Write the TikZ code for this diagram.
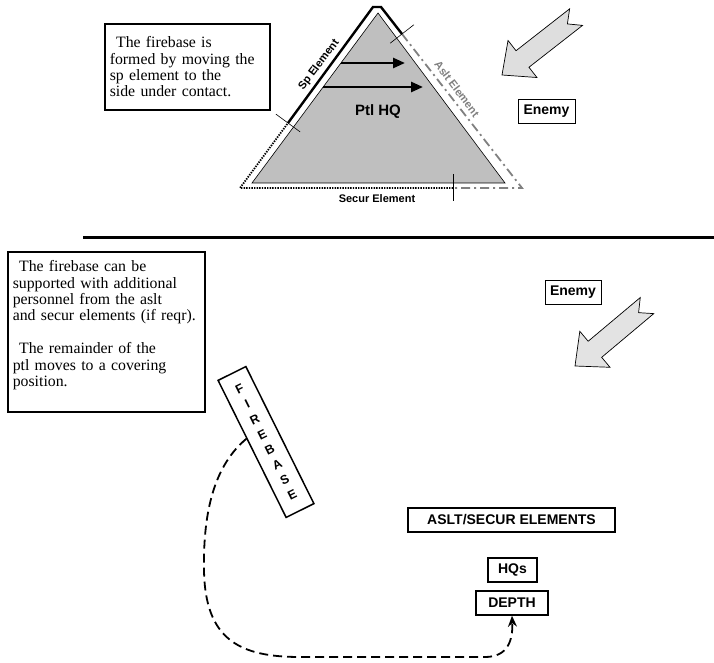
\documentclass[tikz,border=0pt]{standalone}
\usepackage{fontspec}
\setmainfont{Liberation Serif}
\setsansfont{Liberation Sans}
\usetikzlibrary{arrows.meta,calc}

\begin{document}
\begin{tikzpicture}[x=1pt, y=-1pt,
  note/.style={draw, line width=1.6pt, anchor=north west, align=left, inner xsep=5pt, inner ysep=4pt, font=\fontsize{15.8}{16.4}\selectfont},
  tag/.style={draw, line width=1.5pt, inner sep=0pt, minimum height=24pt, font=\sffamily\bfseries\fontsize{14}{16}\selectfont},
  foe/.style={tag, line width=0.9pt},
  side/.style={font=\sffamily\bfseries\fontsize{11}{12}\selectfont, inner sep=0pt},
  push/.style={line width=2.6pt, -{Triangle[length=12pt,width=10pt]}},
  tick/.style={line width=0.6pt},
  bigarrow/.style={draw=black, line width=0.7pt, fill=black!13},
  route/.style={line width=1.8pt, dash pattern=on 9pt off 5pt, -{Stealth[length=11pt,width=9pt]}}]
  \useasboundingbox (0,0) rectangle (714,663);

  % patrol triangle
  \coordinate (tA) at (378,13);
  \coordinate (tL) at (252,183);
  \coordinate (tR) at (505,183);
  \filldraw[fill=black!25, line width=0.6pt] (tA) -- (tL) -- (tR) -- cycle;
  \coordinate (oL) at (240,188);
  \coordinate (oR) at (522,188);
  \coordinate (oT1) at (373,7);
  \coordinate (oT2) at (381,7);
  \coordinate (kL) at (288,123);
  \coordinate (kR) at (402,34);
  \coordinate (kB) at (453,188);
  \draw[line width=2.4pt] (kL) -- (oT1) -- (oT2) -- (kR);
  \draw[gray, line width=1.8pt, dash pattern=on 9pt off 4pt on 2pt off 4pt] (kR) -- (oR) -- (kB);
  \draw[line width=1.8pt, dash pattern=on 1.4pt off 1.2pt] (kB) -- (oL) -- (kL);
  \draw[tick] ($(kL)!15pt!90:(oT1)$) -- ($(kL)!15pt!-90:(oT1)$);
  \draw[tick] ($(kR)!15pt!90:(oR)$) -- ($(kR)!15pt!-90:(oR)$);
  \draw[tick] (453,174) -- (453,201);
  \draw[push] (341,63) -- (405,63);
  \draw[push] (323,87) -- (423,87);
  \node[font=\sffamily\bfseries\fontsize{15}{18}\selectfont] (hq) at (378,112) {Ptl HQ};
  \node[side, rotate=53] (spel) at (319,65) {Sp Element};
  \node[side, rotate=-53, text=gray] (asel) at (457,89) {Aslt Element};
  \node[side] (seel) at (377,199) {Secur Element};

  \node[note, minimum width=165pt, minimum height=86pt, text width=155pt] (n1) at (104,23)
    {\hspace*{0.4em}The firebase is\\formed by moving the\\sp element to the\\side under contact.};

  % enemy
  \filldraw[bigarrow, shift={(502,75)}, rotate=218]
    (0,0) -- (-26,23.5) -- (-26,10.5) -- (-94,10.5) -- (-83,0) -- (-94,-10.5) -- (-26,-10.5) -- (-26,-23.5) -- cycle;
  \node[foe, minimum width=57pt] (en1) at (546.5,111) {Enemy};

  \draw[line width=3pt] (83,237) -- (714,237);

  % second phase
  \node[note, minimum width=197pt, minimum height=160pt, text width=187pt] (n2) at (7,251)
    {\hspace*{0.4em}The firebase can be\\supported with additional\\personnel from the aslt\\and secur elements (if reqr).\\[16.4pt]\hspace*{0.4em}The remainder of the\\ptl moves to a covering\\position.\\\mbox{}};
  \node[foe, minimum width=56pt] (en2) at (573,292.5) {Enemy};
  \filldraw[bigarrow, fill=black!11, shift={(575,366)}, rotate=220]
    (0,0) -- (-26,23.5) -- (-26,10.5) -- (-94,10.5) -- (-83,0) -- (-94,-10.5) -- (-26,-10.5) -- (-26,-23.5) -- cycle;

  \node[tag, rotate=26.4, minimum width=31pt, minimum height=153pt, align=center,
    font=\sffamily\bfseries\fontsize{12.5}{16.9}\selectfont] (fb) at (266,442) {F\\I\\R\\E\\B\\A\\S\\E};
  \node[tag, minimum width=207pt] (as) at (511.5,520) {ASLT/SECUR ELEMENTS};
  \node[tag, minimum width=49pt] (hqs) at (512.5,570) {HQs};
  \node[tag, minimum width=72pt] (dep) at (512,603) {DEPTH};

  \draw[route] ($(fb.west)!0.15!(fb.north west)$) .. controls (215,465) and (203,510) .. (204,570)
    .. controls (205,640) and (240,657) .. (300,657) -- (485,657)
    .. controls (508,657) and (513,640) .. (dep.south);
\end{tikzpicture}
\end{document}
